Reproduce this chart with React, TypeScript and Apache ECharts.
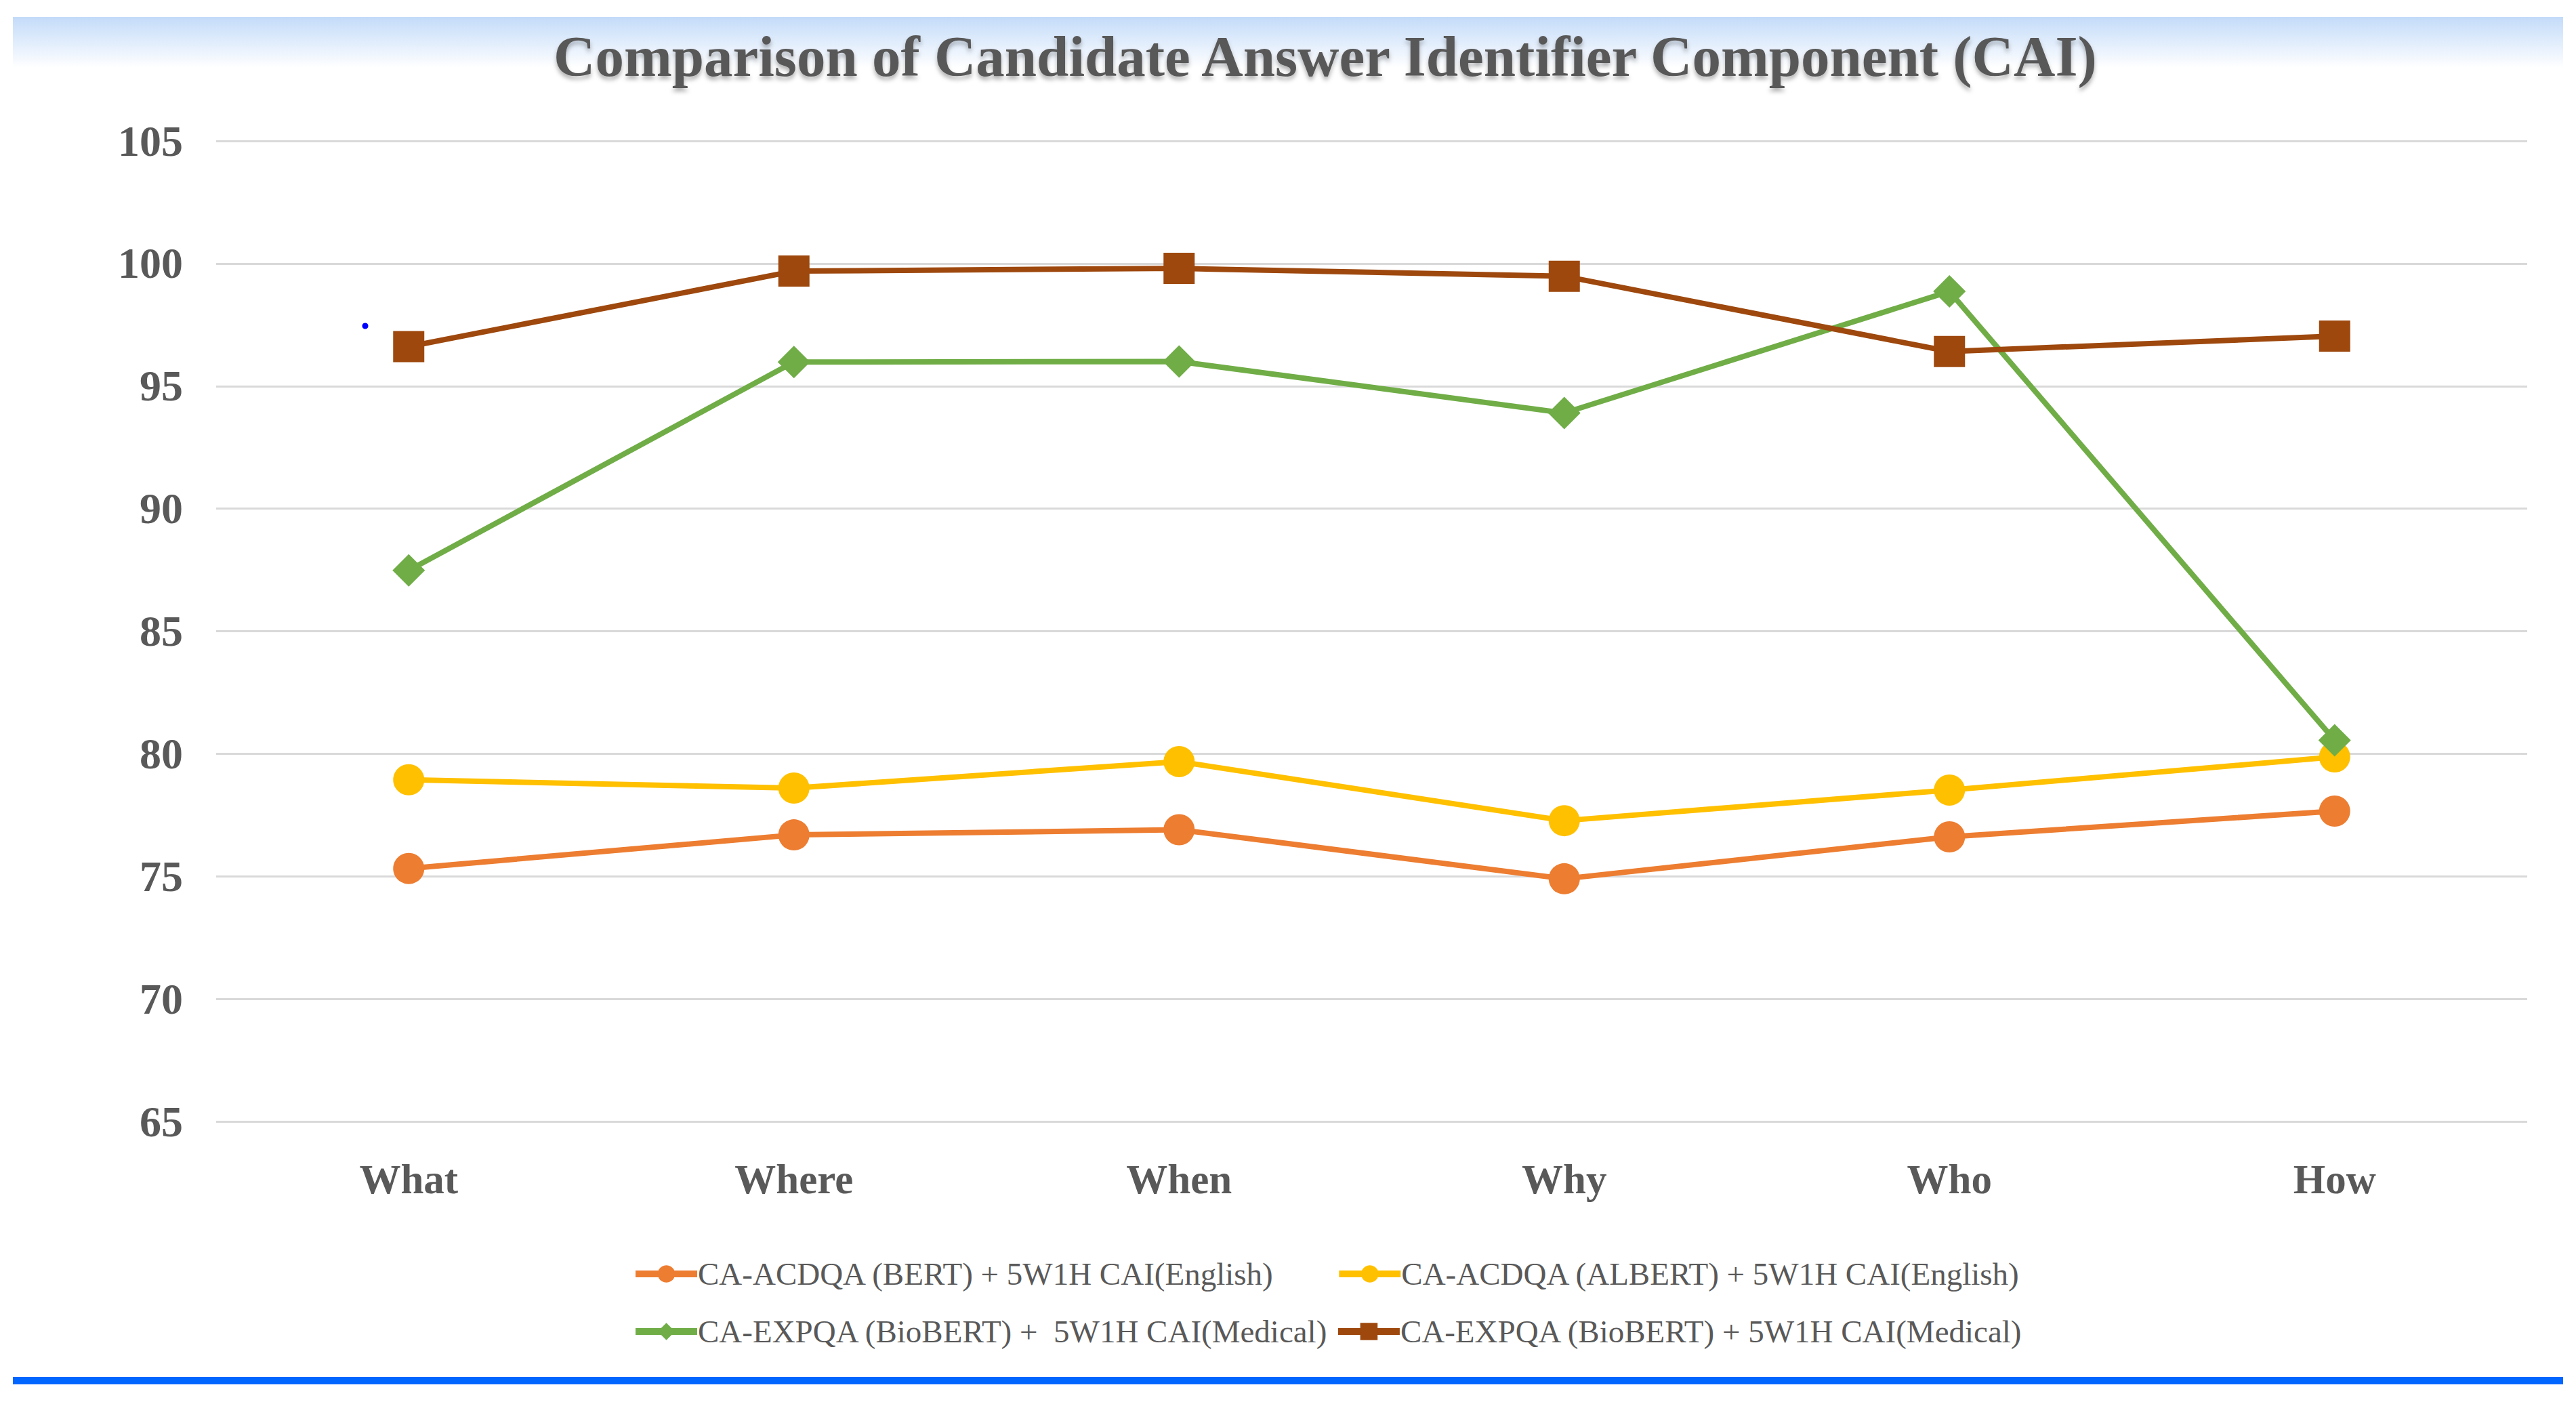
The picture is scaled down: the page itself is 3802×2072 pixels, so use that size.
import React, { useEffect, useRef } from "react";
import * as echarts from "echarts";

const categories = ["What", "Where", "When", "Why", "Who", "How"];
const seriesNames = [
  "CA-ACDQA (BERT) + 5W1H CAI(English)",
  "CA-ACDQA (ALBERT) + 5W1H CAI(English)",
  "CA-EXPQA (BioBERT) +  5W1H CAI(Medical)",
  "CA-EXPQA (BioBERT) + 5W1H CAI(Medical)",
];
const bertEnglish = [75.32, 76.69, 76.9, 74.9, 76.61, 77.66];
const albertEnglish = [78.94, 78.6, 79.68, 77.27, 78.52, 79.87];
const bioBertMedicalA = [87.48, 95.98, 96.0, 93.9, 98.86, 80.55];
const bioBertMedicalB = [96.61, 99.69, 99.8, 99.48, 96.41, 97.04];
const yTicks = { min: 65, max: 105, interval: 5 };
const chartTitle = "Comparison of Candidate Answer Identifier Component (CAI)";

const FONT = "'Liberation Serif', 'Times New Roman', serif";
const GRAY = "#595959";
const colors = ["#ED7D31", "#FFC000", "#70AD47", "#9E480E"];
const symbols = ["circle", "circle", "diamond", "rect"];

export default function App() {
  const ref = useRef<HTMLDivElement>(null);
  useEffect(() => {
    document.body.style.margin = "0";
    document.body.style.overflow = "hidden";
    if (!ref.current) return;
    const chart = echarts.init(ref.current, undefined, { renderer: "svg" });
    const values = [bertEnglish, albertEnglish, bioBertMedicalA, bioBertMedicalB];
    chart.setOption({
      animation: false,
      backgroundColor: "#ffffff",
      textStyle: { fontFamily: FONT },
      title: {
        text: chartTitle,
        left: 812,
        top: 35,
        textStyle: {
          fontFamily: FONT,
          fontSize: 85,
          fontWeight: "bold",
          color: GRAY,
          textShadowColor: "rgba(0,0,0,0.3)",
          textShadowBlur: 6,
          textShadowOffsetY: 5,
        },
      },
      graphic: [
        {
          type: "rect",
          z: -10,
          shape: { x: 19, y: 25, width: 3764, height: 75 },
          style: {
            fill: new echarts.graphic.LinearGradient(0, 0, 0, 1, [
              { offset: 0, color: "#c3dbf9" },
              { offset: 1, color: "#ffffff" },
            ]),
          },
        },
        {
          type: "rect",
          shape: { x: 19, y: 2032, width: 3764, height: 11 },
          style: { fill: "#0066FF" },
        },
        {
          type: "circle",
          shape: { cx: 539, cy: 481, r: 4.5 },
          style: { fill: "#0000FF" },
        },
      ],
      legend: [
        {
          data: [seriesNames[0], seriesNames[1]],
          left: 928,
          top: 1850,
          itemGap: 90,
          itemWidth: 91,
          itemHeight: 32,
          lineStyle: { width: 10 },
          textStyle: { fontFamily: FONT, fontSize: 47, color: GRAY, lineHeight: 50, padding: [0, 0, 0, -4] },
        },
        {
          data: [seriesNames[2], seriesNames[3]],
          left: 928,
          top: 1935,
          itemGap: 9,
          itemWidth: 91,
          itemHeight: 32,
          lineStyle: { width: 10 },
          textStyle: { fontFamily: FONT, fontSize: 47, color: GRAY, lineHeight: 50, padding: [0, 0, 0, -4] },
        },
      ],
      grid: { left: 319, right: 72, top: 208, bottom: 417, containLabel: false },
      xAxis: {
        type: "category",
        data: categories,
        boundaryGap: true,
        axisLine: { show: false },
        axisTick: { show: false },
        axisLabel: {
          fontFamily: FONT,
          fontSize: 61,
          fontWeight: "bold",
          color: GRAY,
          margin: 55,
        },
      },
      yAxis: {
        type: "value",
        min: yTicks.min,
        max: yTicks.max,
        interval: yTicks.interval,
        axisLine: { show: false },
        axisTick: { show: false },
        axisLabel: {
          fontFamily: FONT,
          fontSize: 64,
          fontWeight: "bold",
          color: GRAY,
          margin: 49,
        },
        splitLine: { lineStyle: { color: "#d9d9d9", width: 3 } },
      },
      series: seriesNames.map((name, i) => ({
        name,
        type: "line",
        data: values[i],
        symbol: symbols[i],
        symbolSize: i === 2 ? 48 : 46,
        color: colors[i],
        lineStyle: { color: colors[i], width: 8 },
        itemStyle: { color: colors[i] },
        z: 2 + i,
      })),
    });
    return () => chart.dispose();
  }, []);
  return <div ref={ref} style={{ width: 3802, height: 2072 }} />;
}
